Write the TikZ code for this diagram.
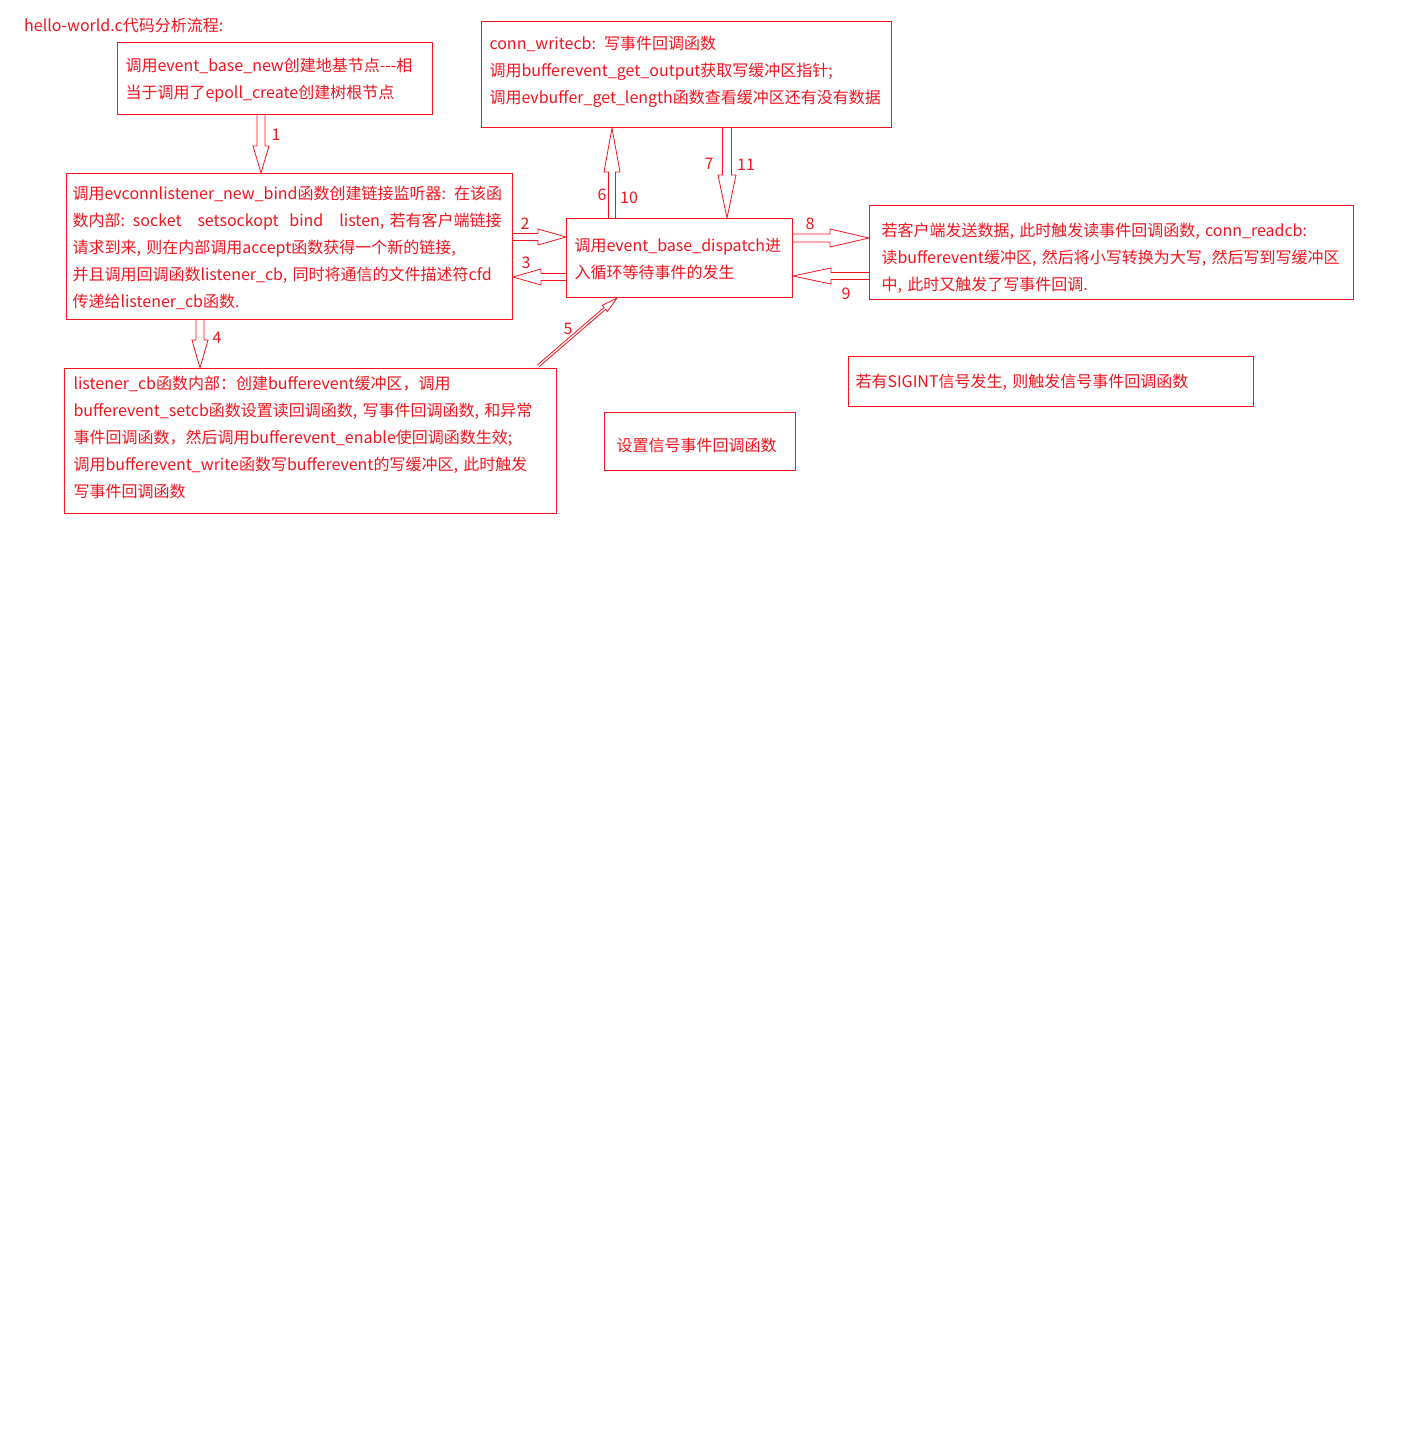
\documentclass[tikz,border=0pt]{standalone}
\usepackage{fontspec}
\setmainfont{Noto Sans CJK SC}
\usetikzlibrary{calc}
\definecolor{dred}{RGB}{245,20,30}
\tikzset{
  box/.style={draw=dred, line width=1pt, text=dred, anchor=north west, align=left,
    font=\fontsize{16}{27}\selectfont, inner ysep=0pt},
  boxv/.style 2 args={text height=#1, text depth=#2},
  num/.style={text=dred, font=\fontsize{16}{18}\selectfont, inner sep=0pt},
  arr/.style={draw=dred, line width=0.8pt},
  blockarrow/.style n args={3}{to path={
    ($(\tikztotarget)!#3!(\tikztostart)$) coordinate (bah)
    ($(\tikztostart)!#1!90:(\tikztotarget)$) -- ($(bah)!#1!90:(\tikztotarget)$)
    -- ($(bah)!#2!90:(\tikztotarget)$) -- (\tikztotarget)
    -- ($(bah)!#2!-90:(\tikztotarget)$) -- ($(bah)!#1!-90:(\tikztotarget)$)
    -- ($(\tikztostart)!#1!-90:(\tikztotarget)$)
  }},
}
\begin{document}
\begin{tikzpicture}[x=1pt, y=-1pt]
\useasboundingbox[fill=white] (0,0) rectangle (1411,1451);

\node[text=dred, font=\fontsize{16}{18}\selectfont, anchor=west, inner sep=0pt] (title) at (24,25) {hello-world.c代码分析流程:};

\node[box, boxv={29pt}{43pt}, inner xsep=8pt, text width=299pt] (boxA) at (117,42)
 {调用event\_base\_new创建地基节点{-}{-}{-}相\\当于调用了epoll\_create创建树根节点};

\node[box, boxv={28pt}{78pt}, inner xsep=8pt, text width=394pt] (wcb) at (481,21)
 {conn\_writecb: 写事件回调函数\\调用bufferevent\_get\_output获取写缓冲区指针;\\调用evbuffer\_get\_length函数查看缓冲区还有没有数据};

\node[box, boxv={26pt}{120pt}, inner xsep=6pt, text width=434pt] (listen) at (66,173)
 {调用evconnlistener\_new\_bind函数创建链接监听器: 在该函\\数内部: socket\ \ \ setsockopt\ \ bind\ \ \ listen, 若有客户端链接\\请求到来, 则在内部调用accept函数获得一个新的链接,\\并且调用回调函数listener\_cb, 同时将通信的文件描述符cfd\\传递给listener\_cb函数.};

\node[box, boxv={33pt}{46pt}, inner xsep=8pt, text width=210pt] (disp) at (566,218)
 {调用event\_base\_dispatch进\\入循环等待事件的发生};

\node[box, boxv={31pt}{63pt}, inner xsep=12pt, text width=460pt] (read) at (869,205)
 {若客户端发送数据, 此时触发读事件回调函数, conn\_readcb:\\读bufferevent缓冲区, 然后将小写转换为大写, 然后写到写缓冲区\\中, 此时又触发了写事件回调.};

\node[box, boxv={21pt}{124pt}, inner xsep=9pt, text width=474pt] (lcb) at (64,368)
 {listener\_cb函数内部：创建bufferevent缓冲区，调用\\bufferevent\_setcb函数设置读回调函数, 写事件回调函数, 和异常\\事件回调函数，然后调用bufferevent\_enable使回调函数生效;\\调用bufferevent\_write函数写bufferevent的写缓冲区, 此时触发\\写事件回调函数};

\node[box, boxv={31pt}{19pt}, inner xsep=7pt, text width=391pt] (sig) at (848,356)
 {若有SIGINT信号发生, 则触发信号事件回调函数};

\node[box, boxv={39pt}{19pt}, inner xsep=12pt, text width=167pt] (setsig) at (604,412)
 {设置信号事件回调函数};

% arrows
\coordinate (a5s) at (538,366);
\draw[arr] (boxA.south -| 261,0) to[blockarrow={4pt}{8pt}{27pt}] (listen.north -| 261,0);
\draw[arr] (listen.east |- 0,237) to[blockarrow={3.5pt}{8pt}{28pt}] (disp.west |- 0,237);
\draw[arr] (disp.west |- 0,277) to[blockarrow={3.5pt}{8pt}{28pt}] (listen.east |- 0,277);
\draw[arr] (listen.south -| 200,0) to[blockarrow={4pt}{8pt}{28pt}] (lcb.north -| 200,0);
\draw[arr] (a5s) to[blockarrow={1.2pt}{4pt}{16pt}] (disp.south -| 617,0);
\draw[arr] (disp.north -| 612,0) to[blockarrow={3.5pt}{8pt}{44pt}] (wcb.south -| 612,0);
\draw[arr] (wcb.south -| 727,0) to[blockarrow={4.5pt}{9pt}{43pt}] (disp.north -| 727,0);
\draw[arr] (disp.east |- 0,238) to[blockarrow={4pt}{9pt}{39pt}] (read.west |- 0,238);
\draw[arr] (read.west |- 0,276) to[blockarrow={3.5pt}{8pt}{38pt}] (disp.east |- 0,276);

% numbers
\node[num] (n1) at (276,135) {1};
\node[num] (n2) at (525,224) {2};
\node[num] (n3) at (526,263) {3};
\node[num] (n4) at (217,338) {4};
\node[num] (n5) at (568,329) {5};
\node[num] (n6) at (602,195) {6};
\node[num] (n10) at (629,198) {10};
\node[num] (n7) at (709,164) {7};
\node[num] (n11) at (746,165) {11};
\node[num] (n8) at (810,224) {8};
\node[num] (n9) at (846,294) {9};
\end{tikzpicture}
\end{document}
